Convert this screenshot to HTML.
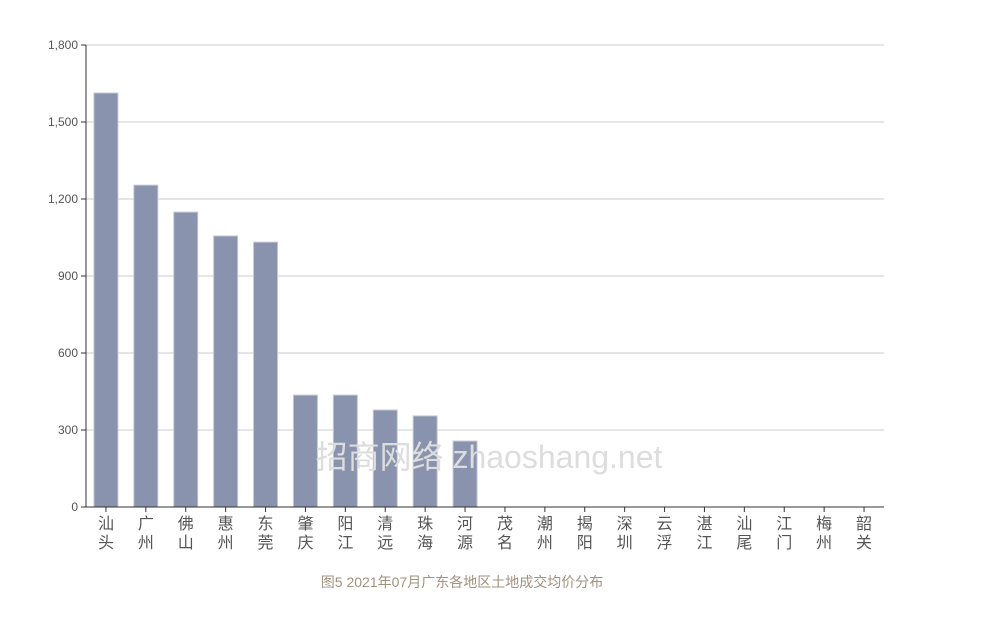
<!DOCTYPE html>
<html><head><meta charset="utf-8"><style>
body{margin:0;background:#fff;width:985px;height:628px;overflow:hidden}
svg{font-family:"Liberation Sans","Noto Sans CJK SC",sans-serif}
</style></head><body>
<svg id="chart" width="985" height="628" xmlns="http://www.w3.org/2000/svg">
<g id="grid"></g><g id="bars"></g><g id="axes"></g>
<text x="489" y="468" text-anchor="middle" font-size="32" fill="#ddd" style="font-family:'Liberation Sans','Noto Sans CJK SC',sans-serif">招商网络 zhaoshang.net</text>
<text x="462" y="587" text-anchor="middle" font-size="14" fill="#a0927f">图5 2021年07月广东各地区土地成交均价分布</text>
</svg>
<script>
const categories=["汕头","广州","佛山","惠州","东莞","肇庆","阳江","清远","珠海","河源","茂名","潮州","揭阳","深圳","云浮","湛江","汕尾","江门","梅州","韶关"];
const values=[1613,1254,1149,1056,1032,436,436,378,355,257,0,0,0,0,0,0,0,0,0,0];
const yTicks=[0,300,600,900,1200,1500,1800];
const NS="http://www.w3.org/2000/svg";
const X0=86,X1=884,Y0=507,Y1=45,YMAX=1800;
const y=v=>Y0-(v/YMAX)*(Y0-Y1);
const band=(X1-X0)/categories.length;
const xc=i=>X0+band*(i+0.5);
function mk(t,a,p){const e=document.createElementNS(NS,t);for(const k in a)e.setAttribute(k,a[k]);p.appendChild(e);return e;}
const grid=document.getElementById('grid'),bars=document.getElementById('bars'),axes=document.getElementById('axes');
yTicks.forEach(t=>{
 if(t>0){const l=mk('line',{x1:X0,x2:X1,y1:y(t),y2:y(t),stroke:'#ccc'},grid);
 
 }
 mk('line',{x1:X0-5,x2:X0,y1:y(t),y2:y(t),stroke:'#333'},axes);
 const tx=mk('text',{x:X0-8,y:y(t)+4,'text-anchor':'end','font-size':12,fill:'#555'},axes);
 tx.textContent=t.toLocaleString('en-US');
 
 
});
categories.forEach((c,i)=>{
 if(values[i]>0){const r=mk('rect',{x:xc(i)-12,y:y(values[i]),width:24,height:Y0-y(values[i]),fill:'#8a93ad',stroke:'#c5c9d6','stroke-width':1},bars);
 
 }
 mk('line',{x1:xc(i),x2:xc(i),y1:Y0,y2:Y0+5,stroke:'#333'},axes);
 [0,1].forEach(k=>{const t=mk('text',{x:xc(i),y:Y0+22+k*19,'text-anchor':'middle','font-size':16,fill:'#555'},axes);
 t.textContent=c[k];
 
 });
});
const ya=mk('line',{x1:X0,x2:X0,y1:Y1,y2:Y0,stroke:'#333'},axes);


const xa=mk('line',{x1:X0,x2:X1,y1:Y0,y2:Y0,stroke:'#333'},axes);


</script>
</body></html>
